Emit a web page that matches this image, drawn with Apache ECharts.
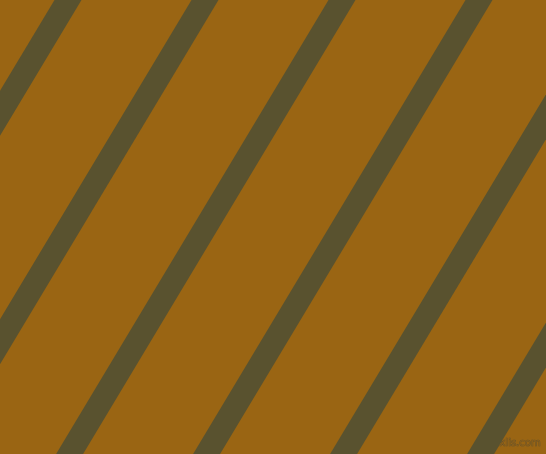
<!DOCTYPE html>
<html>
<head>
<meta charset="utf-8">
<script src="https://cdn.jsdelivr.net/npm/echarts@6/dist/echarts.min.js"></script>
<style>html,body{margin:0;padding:0;background:#9A6513;}#c{width:546px;height:454px;}</style>
</head>
<body>
<div id="c"></div>
<script>
// Stripe centre positions where each stripe crosses the top edge (y = 0), in px
const stripeTopX = [68, 205, 342, 479, 616, 753];
// Horizontal shift of a stripe per pixel going down
const stripeSlope = -0.6;
// Horizontal stripe thickness, px
const stripeHorizWidth = 27;
const bgColor = '#9A6513';
const stripeColor = '#59522F';
const W = 546, H = 454;

const chart = echarts.init(document.getElementById('c'), null, {renderer: 'canvas'});
const perpWidth = stripeHorizWidth / Math.sqrt(1 + stripeSlope * stripeSlope);
const y0 = -60, y1 = H + 60;
const series = stripeTopX.map(x => ({
  type: 'line',
  data: [[x + stripeSlope * y0, y0], [x + stripeSlope * y1, y1]],
  symbol: 'none',
  clip: true,
  lineStyle: {color: stripeColor, width: perpWidth, cap: 'butt'},
  silent: true,
  animation: false
}));

chart.setOption({
  backgroundColor: bgColor,
  animation: false,
  grid: {left: 0, right: 0, top: 0, bottom: 0},
  xAxis: {type: 'value', min: 0, max: W, show: false},
  yAxis: {type: 'value', min: 0, max: H, inverse: true, show: false},
  series: series,
  graphic: [{
    type: 'text',
    right: 5,
    bottom: 5,
    style: {
      text: 'pixlis.com',
      font: '10px "DejaVu Sans"',
      fill: '#8E5F17',
      stroke: '#5E5130',
      lineWidth: 0.7
    }
  }]
});
</script>
</body>
</html>
